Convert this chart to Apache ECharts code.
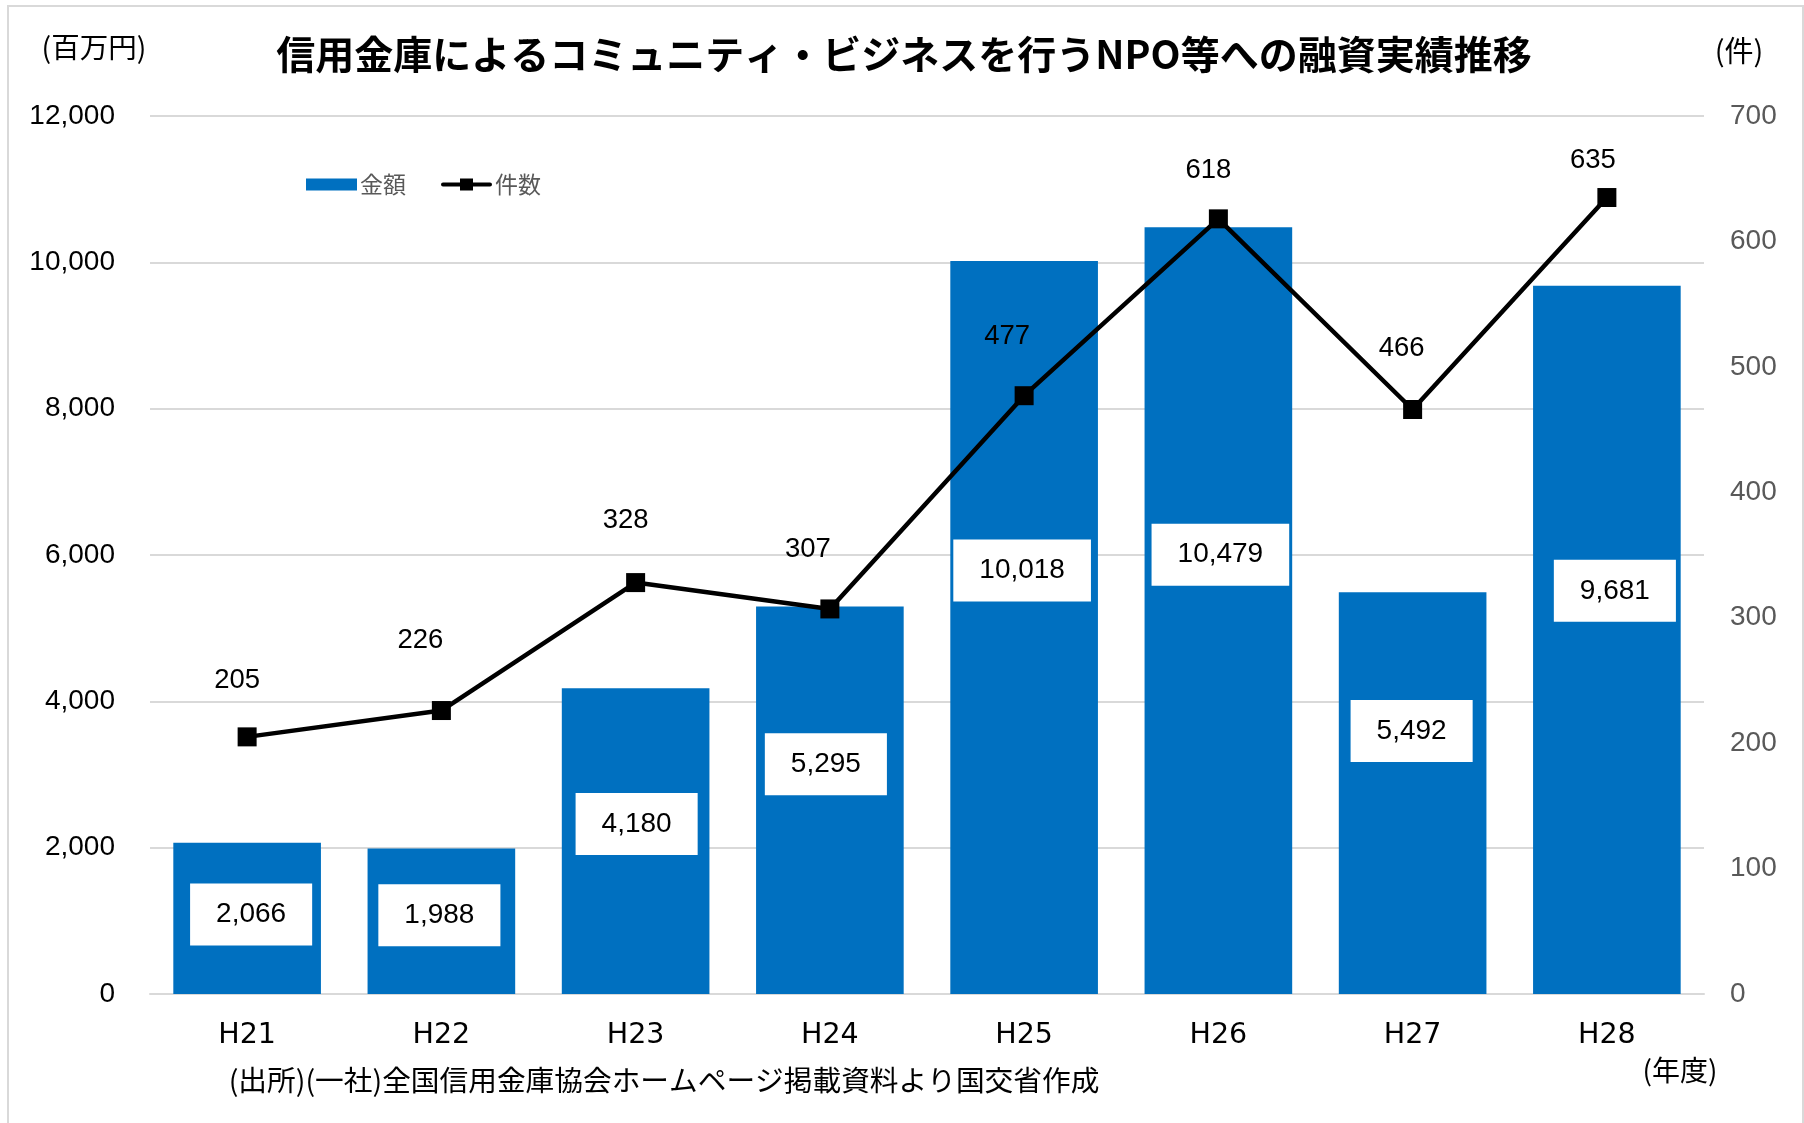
<!DOCTYPE html>
<html>
<head>
<meta charset="utf-8">
<script src="https://cdn.jsdelivr.net/npm/echarts@6/dist/echarts.min.js"></script>
<style>
html,body{margin:0;padding:0;background:#fff;}
#chart{width:1804px;height:1123px;}
</style>
</head>
<body>
<div id="chart"></div>
<script>
// ---- data ----
const categories = ['H21', 'H22', 'H23', 'H24', 'H25', 'H26', 'H27', 'H28'];
const amounts = [2066, 1988, 4180, 5295, 10018, 10479, 5492, 9681];   // 金額 (百万円)
const counts = [205, 226, 328, 307, 477, 618, 466, 635];              // 件数 (件)
const seriesNames = ['金額', '件数'];
const titleText = '信用金庫によるコミュニティ・ビジネスを行うNPO等への融資実績推移';
const leftUnit = '(百万円)';
const rightUnit = '(件)';
const xUnit = '(年度)';
const sourceText = '(出所)(一社)全国信用金庫協会ホームページ掲載資料より国交省作成';

// ---- label placement (style, px) ----
const barLabelOffsets = [[4, -4], [-2, -6], [1, -17], [-4, -36], [-2, -57], [2, -56], [-1, -62], [8, -49]];
const lineLabelOffsets = [[-10, -56], [-21, -70], [-10, -62], [-22, -60], [-17, -59], [-10, -48], [-11, -61], [-14, -37]];

const NUM_FONT = '"Liberation Sans", Arial, sans-serif';
const CJK_FONT = '"Noto Sans CJK JP", "Noto Sans", sans-serif';

const fmt = v => v.toLocaleString('en-US');

const chart = echarts.init(document.getElementById('chart'), null, {renderer: 'canvas'});

const barData = amounts.map((v, i) => ({
  value: v,
  label: {offset: barLabelOffsets[i]}
}));
const lineData = counts.map((v, i) => ({
  value: v,
  label: {offset: lineLabelOffsets[i]}
}));

chart.setOption({
  backgroundColor: '#ffffff',
  animation: false,
  grid: {left: 150, right: 100, top: 116, bottom: 129, containLabel: false},
  legend: {
    data: [
      {name: seriesNames[0], icon: 'rect'},
      {name: seriesNames[1], icon: 'path://M2,4H49A2,2 0 0 1 49,8H2A2,2 0 0 1 2,4Z M19,0H32V12H19Z'}
    ],
    left: 301,
    top: 168,
    itemWidth: 51,
    itemHeight: 12,
    itemGap: 35,
    textStyle: {color: '#595959', fontSize: 23, fontFamily: CJK_FONT, padding: [0, 0, 0, -2]}
  },
  xAxis: {
    type: 'category',
    data: categories,
    axisLine: {show: true, lineStyle: {color: '#d9d9d9', width: 2}},
    axisTick: {show: false},
    axisLabel: {color: '#000', fontSize: 28.5, fontFamily: '"DejaVu Sans", sans-serif', margin: 27}
  },
  yAxis: [
    {
      type: 'value', min: 0, max: 12000, interval: 2000,
      axisLine: {show: false}, axisTick: {show: false},
      splitLine: {lineStyle: {color: '#d9d9d9', width: 2}},
      axisLabel: {color: '#000', fontSize: 28, fontFamily: NUM_FONT, margin: 35, formatter: v => fmt(v)}
    },
    {
      type: 'value', min: 0, max: 700, interval: 100,
      axisLine: {show: false}, axisTick: {show: false},
      splitLine: {show: false},
      axisLabel: {color: '#595959', fontSize: 28, fontFamily: NUM_FONT, margin: 26}
    }
  ],
  series: [
    {
      name: seriesNames[0],
      type: 'bar',
      yAxisIndex: 0,
      data: barData,
      barWidth: '76%',
      itemStyle: {color: '#0070C0'},
      label: {
        show: true,
        position: 'inside',
        formatter: p => fmt(p.value),
        color: '#000',
        fontSize: 28,
        fontFamily: NUM_FONT,
        backgroundColor: '#ffffff',
        padding: [15, 26],
        lineHeight: 32
      },
      z: 2
    },
    {
      name: seriesNames[1],
      type: 'line',
      yAxisIndex: 1,
      data: lineData,
      symbol: 'rect',
      symbolSize: 19,
      lineStyle: {color: '#000', width: 4.5},
      itemStyle: {color: '#000'},
      label: {
        show: true,
        position: 'inside',
        color: '#000',
        fontSize: 27.5,
        fontFamily: NUM_FONT
      },
      z: 5
    }
  ],
  graphic: [
    {type: 'rect', silent: true, z: -1,
      shape: {x: 8, y: 6, width: 1795, height: 1200},
      style: {fill: 'none', stroke: '#d9d9d9', lineWidth: 2}},
    {type: 'text', x: 904, y: 54,
      style: {text: titleText, fill: '#000', font: 'bold 39px ' + CJK_FONT, textAlign: 'center', textVerticalAlign: 'middle'}},
    {type: 'text', x: 94, y: 47,
      style: {text: leftUnit, fill: '#000', font: '28.5px ' + CJK_FONT, textAlign: 'center', textVerticalAlign: 'middle'}},
    {type: 'text', x: 1739, y: 51,
      style: {text: rightUnit, fill: '#000', font: '29px ' + CJK_FONT, textAlign: 'center', textVerticalAlign: 'middle'}},
    {type: 'text', x: 1680, y: 1070,
      style: {text: xUnit, fill: '#000', font: '28px ' + CJK_FONT, textAlign: 'center', textVerticalAlign: 'middle'}},
    {type: 'text', x: 664, y: 1080,
      style: {text: sourceText, fill: '#000', font: '28.7px ' + CJK_FONT, textAlign: 'center', textVerticalAlign: 'middle'}}
  ]
});
</script>
</body>
</html>
